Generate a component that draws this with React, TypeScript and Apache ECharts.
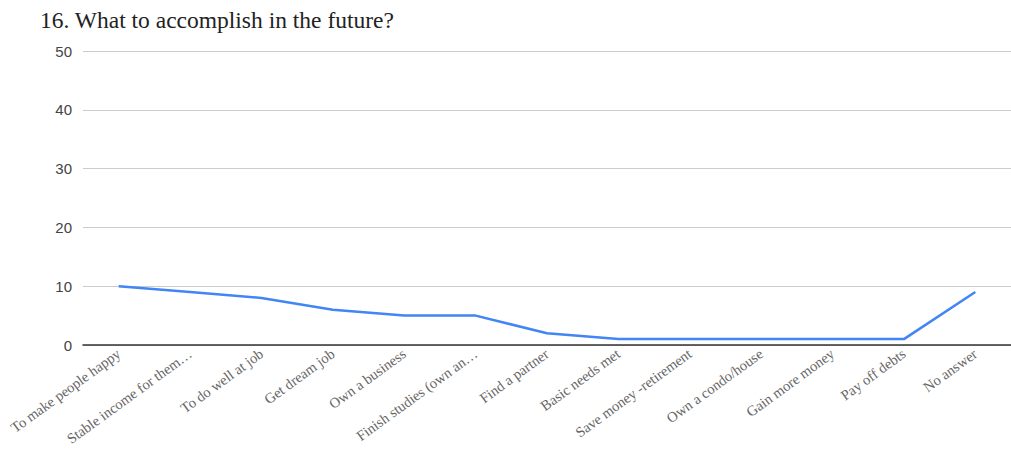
import React, { useEffect, useRef } from "react";
import * as echarts from "echarts";

const titleText = "16. What to accomplish in the future?";
const categories = [
  "To make people happy",
  "Stable income for them…",
  "To do well at job",
  "Get dream job",
  "Own a business",
  "Finish studies (own an…",
  "Find a partner",
  "Basic needs met",
  "Save money -retirement",
  "Own a condo/house",
  "Gain more money",
  "Pay off debts",
  "No answer",
];
const values = [10, 9, 8, 6, 5, 5, 2, 1, 1, 1, 1, 1, 9];
const yTicks = { min: 0, max: 50, interval: 10 };

export default function App() {
  const ref = useRef<HTMLDivElement>(null);
  useEffect(() => {
    if (!ref.current) return;
    const chart = echarts.init(ref.current, undefined, { renderer: "svg" });
    chart.setOption({
      animation: false,
      backgroundColor: "#ffffff",
      title: {
        text: titleText,
        left: 35,
        top: 3,
        textStyle: {
          fontFamily: "Liberation Serif",
          fontSize: 23.5,
          fontWeight: "normal",
          color: "#222222",
        },
      },
      grid: { left: 83, right: -4, top: 51, bottom: 116, containLabel: false },
      xAxis: {
        type: "category",
        data: categories,
        boundaryGap: true,
        axisLine: { show: true, lineStyle: { color: "#333333", width: 1.5 } },
        axisTick: { show: false },
        axisLabel: {
          interval: 0,
          rotate: 36,
          margin: 7,
          fontFamily: "Liberation Serif",
          fontSize: 14.5,
          color: "#666666",
        },
      },
      yAxis: {
        type: "value",
        min: yTicks.min,
        max: yTicks.max,
        interval: yTicks.interval,
        axisLine: { show: false },
        axisTick: { show: false },
        axisLabel: {
          margin: 11,
          fontFamily: "Liberation Sans",
          fontSize: 15,
          color: "#444444",
        },
        splitLine: { lineStyle: { color: "#cccccc", width: 1 } },
      },
      series: [
        {
          type: "line",
          data: values,
          symbol: "none",
          lineStyle: { color: "#4285F4", width: 2.5 },
          itemStyle: { color: "#4285F4" },
        },
      ],
    });
    return () => chart.dispose();
  }, []);
  return (
    <div
      ref={ref}
      style={{ position: "absolute", left: 0, top: 0, width: 1011, height: 461 }}
    />
  );
}
